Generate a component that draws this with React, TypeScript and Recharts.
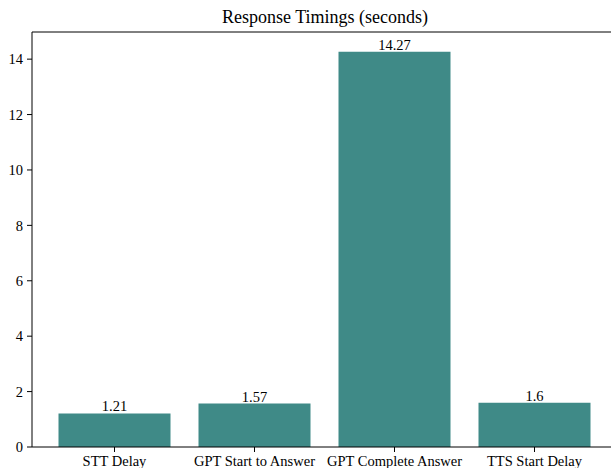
import { BarChart, Bar, XAxis, YAxis, LabelList, ReferenceLine } from 'recharts';

const categories = ['STT Delay', 'GPT Start to Answer', 'GPT Complete Answer', 'TTS Start Delay'];
const timings = [1.21, 1.57, 14.27, 1.6];
const yTicks = [0, 2, 4, 6, 8, 10, 12, 14];

const data = categories.map((name, i) => ({ name, seconds: timings[i] }));

const font = '"Liberation Serif", "Times New Roman", serif';
const tickStyle = { fontFamily: font, fontSize: 14.5, fill: '#000' };

export default function App() {
  return (
    <div
      style={{
        position: 'fixed',
        left: 0,
        top: 0,
        width: 611,
        height: 468,
        overflow: 'hidden',
        background: '#fff',
        fontFamily: font,
      }}
    >
      <div
        style={{
          position: 'absolute',
          left: 175,
          width: 300,
          top: 7,
          textAlign: 'center',
          fontSize: 18,
          whiteSpace: 'nowrap',
          lineHeight: '20px',
          color: '#000',
        }}
      >
        Response Timings (seconds)
      </div>
      {/* plot area runs past the right edge, like the cropped original */}
      <BarChart
        width={640}
        height={490}
        data={data}
        margin={{ top: 32, right: 23, bottom: 0, left: 0 }}
      >
        <XAxis
          dataKey="name"
          height={43}
          padding={{ left: 12.5, right: 12.5 }}
          tick={tickStyle}
          tickSize={5}
          tickMargin={4}
          stroke="#000"
          interval={0}
        />
        <YAxis
          width={32}
          domain={[0, 14.98]}
          ticks={yTicks}
          tick={tickStyle}
          tickSize={5}
          tickMargin={4}
          stroke="#000"
          allowDataOverflow
        />
        <ReferenceLine y={14.98} stroke="#000" strokeWidth={1} />
        <Bar dataKey="seconds" fill="#3F8A87" barSize={112} isAnimationActive={false}>
          <LabelList
            dataKey="seconds"
            position="top"
            offset={2}
            style={{ fontFamily: font, fontSize: 14.5, fill: '#000' }}
          />
        </Bar>
      </BarChart>
    </div>
  );
}
